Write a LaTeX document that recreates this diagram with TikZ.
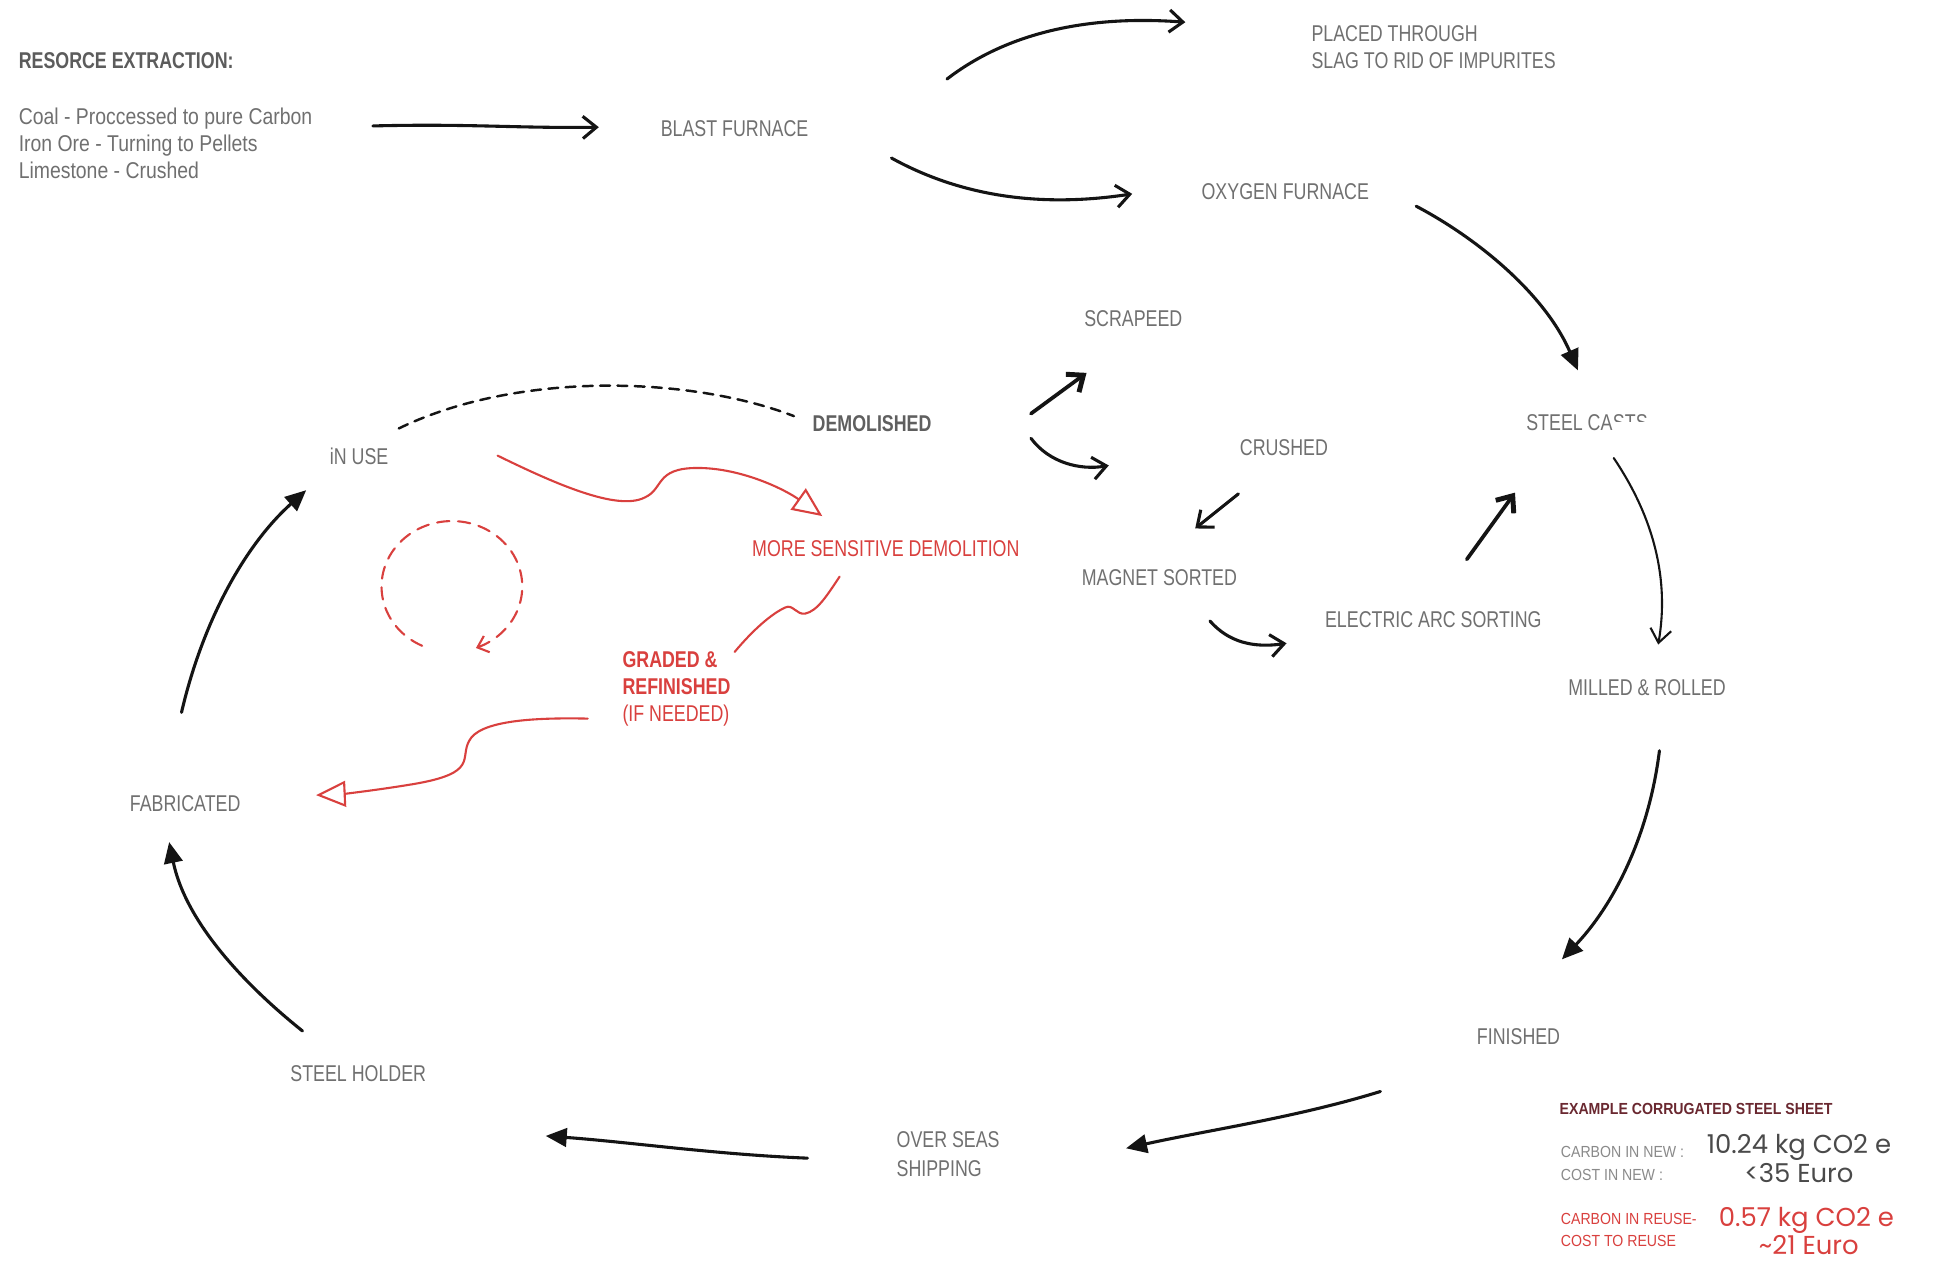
\documentclass[tikz,border=0pt]{standalone}
\usepackage{fontspec}
\setmainfont{Liberation Sans}[FakeStretch=0.78]
\newfontfamily\listfont{Liberation Sans}[FakeStretch=0.85]
\newfontfamily\notefont{Liberation Sans}[FakeStretch=0.88]
\newfontfamily\handfont{Poppins}
\usetikzlibrary{arrows.meta,calc}

\definecolor{labelgray}{HTML}{707070}
\definecolor{titlegray}{HTML}{5C5C5C}
\definecolor{notegray}{HTML}{8A8A8A}
\definecolor{inkred}{HTML}{D9403E}
\definecolor{notemaroon}{HTML}{6A2830}
\definecolor{handgray}{HTML}{4A4A4A}

\tikzset{
  lbl/.style={text=labelgray, font=\fontsize{18.5}{22}\selectfont, inner sep=0pt, anchor=base west},
  listlbl/.style={lbl, font=\listfont\fontsize{18.5}{22}\selectfont},
  boldlbl/.style={lbl, font=\fontsize{18.5}{22}\selectfont\bfseries},
  redlbl/.style={lbl, text=inkred},
  redbold/.style={boldlbl, text=inkred},
  note/.style={inner sep=0pt, anchor=base west, font=\notefont\fontsize{13}{15}\selectfont},
  hand/.style={inner sep=0pt, anchor=base, font=\handfont\fontsize{21}{24}\selectfont},
  ink/.style={draw=black!92, line width=2.5pt, line cap=round},
  openhead/.style={ink, -{Straight Barb[length=11pt, width=18pt, line width=2.5pt]}},
  heavyhead/.style={ink, line width=3pt, -{Straight Barb[length=11pt, width=18pt, line width=4pt]}},
  thinhead/.style={ink, line width=1.7pt, -{Straight Barb[length=11pt, width=17pt, line width=1.7pt]}},
  solidhead/.style={ink, -{Triangle[length=17pt, width=15pt]}},
  redink/.style={draw=inkred, line width=1.7pt, line cap=round},
  redhead/.style={redink, -{Triangle[open, length=24pt, width=21pt, line width=1.7pt]}},
}

\begin{document}
\begin{tikzpicture}[x=1pt, y=-1pt]
\fill[white] (0,0) rectangle (1568,1021);
\useasboundingbox (0,0) rectangle (1568,1021);

% ---- resource extraction block ----
\node[boldlbl, text=titlegray] (title) at (15,55.6) {RESORCE EXTRACTION:};
\node[listlbl] (coal) at (15,100.6) {Coal - Proccessed to pure Carbon};
\node[listlbl] (ore) at (15,122.6) {Iron Ore - Turning to Pellets};
\node[listlbl] (lime) at (15,144.6) {Limestone - Crushed};

% ---- production chain labels ----
\node[lbl] (blast) at (535,110.6) {BLAST FURNACE};
\node[lbl] (placed) at (1062,33.6) {PLACED THROUGH};
\node[lbl] (slag) at (1062,55.6) {SLAG TO RID OF IMPURITES};
\node[lbl] (oxygen) at (973,161.6) {OXYGEN FURNACE};
\node[lbl] (casts) at (1236,348.6) {STEEL CA};
\begin{scope}
  \clip ($(casts.north east)+(0,-3)$) rectangle ($(casts.north east)+(40,5.5)$);
  \node[lbl] (castsend) at (casts.base east) {STS};
\end{scope}
\node[lbl] (milled) at (1270,563.6) {MILLED \& ROLLED};
\node[lbl] (finished) at (1196,845.6) {FINISHED};
\node[lbl] (overseas) at (726,929.6) {OVER SEAS};
\node[lbl] (shipping) at (726,952.6) {SHIPPING};
\node[lbl] (holder) at (235,875.6) {STEEL HOLDER};
\node[lbl] (fab) at (105,657.6) {FABRICATED};
\node[lbl] (inuse) at (267,376.6) {iN USE};
\node[boldlbl, text=labelgray!85!black] (demol) at (658,349.6) {DEMOLISHED};
\node[lbl] (scrap) at (878,264.6) {SCRAPEED};
\node[lbl] (crushed) at (1004,368.6) {CRUSHED};
\node[lbl] (magnet) at (876,474.6) {MAGNET SORTED};
\node[lbl] (arc) at (1073,508.6) {ELECTRIC ARC SORTING};

% ---- reuse path labels ----
\node[redlbl] (sensitive) at (609,450.6) {MORE SENSITIVE DEMOLITION};
\node[redbold] (graded) at (504,540.6) {GRADED \&};
\node[redbold] (refin) at (504,562.6) {REFINISHED};
\node[redlbl] (ifneed) at (504,584.6) {(IF NEEDED)};

% ---- example figures ----
\node[note, font=\notefont\fontsize{13}{15}\selectfont\bfseries, text=notemaroon] (example) at (1263,902.5) {EXAMPLE CORRUGATED STEEL SHEET};
\node[note, text=notegray] (cnew) at (1264,937.7) {CARBON IN NEW :};
\node[note, text=notegray] (costnew) at (1264,955.7) {COST IN NEW :};
\node[note, text=inkred] (creuse) at (1264,991.7) {CARBON IN REUSE-};
\node[note, text=inkred] (costreuse) at (1264,1009.7) {COST TO REUSE};
\node[hand, text=handgray] (vnew) at (1457,934) {10.24 kg CO2 e};
\node[hand, text=handgray] (vcostnew) at (1457,958) {\textless35 Euro};
\node[hand, text=inkred] (vreuse) at (1463,993) {0.57 kg CO2 e};
\node[hand, text=inkred] (vcostreuse) at (1465,1016) {\textasciitilde21 Euro};

% ---- connector end points ----
\coordinate (resOut) at (302,102);   \coordinate (blastIn) at (485,103);
\coordinate (blastUp) at (767,64);   \coordinate (placedIn) at (960,18);
\coordinate (blastDn) at (722,128);  \coordinate (oxyIn) at (917,157);
\coordinate (oxyOut) at (1147,167);  \coordinate (castsIn) at (1278,300);
\coordinate (castsOut) at (1307,371); \coordinate (milledIn) at (1343,522);
\coordinate (milledOut) at (1344,608); \coordinate (finIn) at (1265,777);
\coordinate (finOut) at (1118,884);  \coordinate (shipIn) at (912,930);
\coordinate (shipOut) at (654,938);  \coordinate (holderIn) at (442,920);
\coordinate (holderOut) at (245,835); \coordinate (fabIn) at (137,682);
\coordinate (fabOut) at (147,577);   \coordinate (useIn) at (248,397);
\coordinate (useTop) at (323,347);   \coordinate (demolLeft) at (643,337);
\coordinate (demolUp) at (835,335);  \coordinate (scrapIn) at (880,302);
\coordinate (demolDn) at (835,355);  \coordinate (crushIn) at (898,377);
\coordinate (crushOut) at (1003,400); \coordinate (magIn) at (968,428);
\coordinate (magOut) at (980,503);   \coordinate (arcIn) at (1042,521);
\coordinate (arcOut) at (1188,453);  \coordinate (castsLow) at (1227,399);
\coordinate (useRed) at (403,369);   \coordinate (sensIn) at (666,418);
\coordinate (sensOut) at (680,467);  \coordinate (gradIn) at (595,528);
\coordinate (gradOut) at (476,582);  \coordinate (fabRed) at (256,644);

% ---- production chain connectors ----
\draw[openhead] (resOut) .. controls (380,100) and (420,104) .. (blastIn);
\draw[openhead] (blastUp) .. controls (815,27) and (880,12) .. (placedIn);
\draw[openhead] (blastDn) .. controls (780,160) and (845,168) .. (oxyIn);
\draw[solidhead] (oxyOut) .. controls (1200,195) and (1252,240) .. (castsIn);
\draw[thinhead] (castsOut) .. controls (1340,420) and (1352,470) .. (milledIn);
\draw[solidhead] (milledOut) .. controls (1335,680) and (1305,735) .. (finIn);
\draw[solidhead] (finOut) .. controls (1050,905) and (980,915) .. (shipIn);
\draw[solidhead] (shipOut) .. controls (580,935) and (510,925) .. (holderIn);
\draw[solidhead] (holderOut) .. controls (195,795) and (150,745) .. (fabIn);
\draw[solidhead] (fabOut) .. controls (165,500) and (200,440) .. (useIn);
\draw[ink, line width=2pt, dash pattern=on 8pt off 6pt] (useTop) .. controls (420,300) and (560,305) .. (demolLeft);
\draw[heavyhead] (demolUp) -- (scrapIn);
\draw[openhead] (demolDn) .. controls (850,375) and (875,381) .. (crushIn);
\draw[openhead] (crushOut) -- (magIn);
\draw[openhead] (magOut) .. controls (995,520) and (1015,525) .. (arcIn);
\draw[heavyhead] (arcOut) -- (castsLow);

% ---- reuse path connectors ----
\draw[redhead] (useRed) .. controls (450,392) and (500,414) .. (522,403)
  .. controls (538,396) and (530,379) .. (565,379)
  .. controls (600,379) and (635,396) .. (sensIn);
\draw[redink] (sensOut) .. controls (670,482) and (662,495) .. (652,497)
  .. controls (645,498) and (642,489) .. (636,492)
  .. controls (625,497) and (610,510) .. (gradIn);
\draw[redhead] (gradOut) .. controls (430,581) and (388,584) .. (380,600)
  .. controls (372,614) and (388,626) .. (335,635)
  .. controls (305,640) and (278,643) .. (fabRed);
\draw[redink, dash pattern=on 10pt off 7pt, -{Straight Barb[length=8pt, width=14pt, line width=1.7pt]}]
  plot[domain=115:430, samples=90, smooth] ({366+57*cos(\x)}, {475+53*sin(\x)});
\end{tikzpicture}
\end{document}
